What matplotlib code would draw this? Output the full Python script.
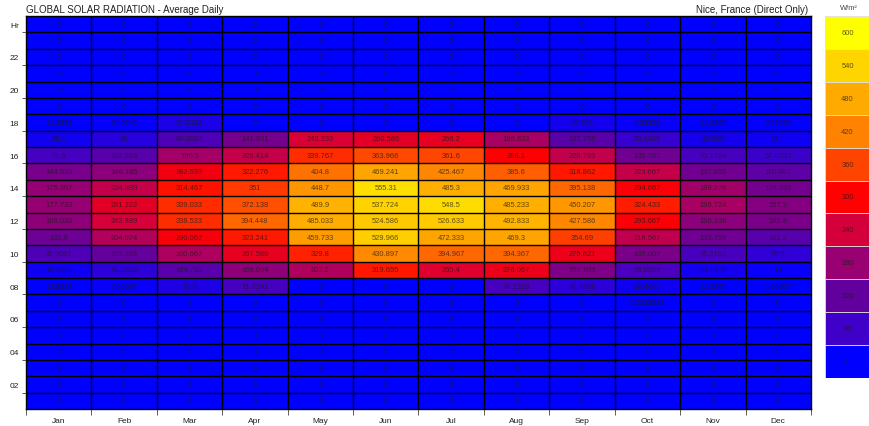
import numpy as np
import matplotlib
matplotlib.use("Agg")
from matplotlib import pyplot as plt
from matplotlib.colors import LinearSegmentedColormap, Normalize

plt.rcParams["font.family"] = ["Liberation Sans", "DejaVu Sans"]

months = ["Jan", "Feb", "Mar", "Apr", "May", "Jun", "Jul", "Aug", "Sep", "Oct", "Nov", "Dec"]

# hourly averages in W/m², only the hours with sun; every other hour is zero
hr07 = [0, 0, 0, 0, 0, 0, 0, 0, 0, 0.0333333, 0, 0]
hr08 = [1.93333, 7.66667, 30.3, 71.7241, 0, 0, 0, 74.1333, 40.4828, 15.4667, 1.10345, 1.96667]
hr09 = [16.3333, 43.8519, 104.733, 168.034, 203.2, 319.655, 255.4, 276.067, 152.103, 78.0333, 20.1379, 9.1]
hr10 = [86.5667, 123.333, 200.667, 267.586, 329.8, 430.897, 394.967, 394.367, 275.621, 146.067, 75.3103, 45.6]
hr11 = [132.8, 204.074, 290.067, 323.241, 459.733, 529.966, 472.333, 469.3, 354.69, 218.567, 133.759, 101.2]
hr12 = [168.033, 242.889, 338.533, 394.448, 485.033, 524.586, 526.633, 492.833, 427.586, 293.067, 166.138, 145.8]
hr13 = [177.733, 261.222, 339.033, 372.138, 489.9, 537.724, 548.5, 485.233, 450.207, 324.433, 196.724, 157.3]
hr14 = [175.367, 224.889, 314.467, 351, 448.7, 555.31, 485.3, 469.933, 395.138, 294.667, 188.276, 139.333]
hr15 = [144.533, 166.185, 282.533, 322.276, 404.8, 469.241, 425.467, 385.6, 318.862, 223.667, 137.655, 110.467]
hr16 = [71.9, 102.593, 190.5, 226.414, 339.767, 363.966, 361.6, 298.1, 220.793, 135.767, 73.1724, 57.8333]
hr17 = [18.1, 36, 84.0667, 141.931, 248.233, 260.586, 266.2, 196.833, 107.759, 53.4333, 20.069, 13.4]
hr18 = [1.13333, 6.40741, 27.2333, 0, 0, 0, 0, 0, 18.931, 7.33333, 1.10345, 2.63333]

hours = list(range(24, 0, -1))
sun_hours = {7: hr07, 8: hr08, 9: hr09, 10: hr10, 11: hr11, 12: hr12,
             13: hr13, 14: hr14, 15: hr15, 16: hr16, 17: hr17, 18: hr18}
hour_labels = {24: "Hr", 22: "22", 20: "20", 18: "18", 16: "16", 14: "14",
               12: "12", 10: "10", 8: "08", 6: "06", 4: "04", 2: "02"}

scale_levels = [0, 60, 120, 180, 240, 300, 360, 420, 480, 540, 600]
scale_colors = ["#0000ff", "#4000c8", "#62009e", "#9a0070", "#d4003c", "#ff0000",
                "#ff4400", "#ff8200", "#ffaa00", "#ffd400", "#ffff00"]

grid = np.array([sun_hours.get(h, [0] * 12) for h in hours], dtype=float)

cmap = LinearSegmentedColormap.from_list(
    "solar", [(lv / 600, c) for lv, c in zip(scale_levels, scale_colors)])
norm = Normalize(0, 600)

W, H = 870, 427
fig = plt.figure(figsize=(W / 100, H / 100), dpi=100)

# main hour x month grid
ax = fig.add_axes([26 / W, (H - 410) / H, (811 - 26) / W, (410 - 17) / H])
ax.pcolormesh(np.arange(13), np.arange(25), grid, cmap=cmap, norm=norm)
ax.hlines(np.arange(1, 24), 0, 12, colors="black", linewidth=1.0)
ax.vlines(np.arange(1, 12), 0, 24, colors="black", linewidth=1.0)
ax.set_xlim(0, 12)
ax.set_ylim(24, 0)
for i in range(len(hours)):
    for j in range(len(months)):
        ax.text(j + 0.5, i + 0.5, f"{grid[i, j]:g}", ha="center", va="center",
                fontsize=5.4, color="#1a1a1a", alpha=0.7)

ax.set_xticks(np.arange(12) + 0.5)
ax.set_xticklabels(months, fontsize=6, color="#222222")
ax.set_xticks(np.arange(13), minor=True)
ax.tick_params(axis="x", which="major", length=0, pad=6)
ax.tick_params(axis="x", which="minor", length=4, width=0.6, color="#444444")

label_rows = [i for i, h in enumerate(hours) if h in hour_labels]
ax.set_yticks([i + 0.5 for i in label_rows])
ax.set_yticklabels([hour_labels[hours[i]] for i in label_rows], fontsize=6, color="#222222")
ax.set_yticks([i + 1 for i in label_rows], minor=True)
ax.tick_params(axis="y", which="major", length=0, pad=5)
ax.tick_params(axis="y", which="minor", length=3, width=0.6, color="#444444")
for side in ax.spines.values():
    side.set_linewidth(1.0)

fig.text(26 / W, 1 - 10 / H, "GLOBAL SOLAR RADIATION - Average Daily",
         ha="left", va="center", fontsize=7, color="#222222")
fig.text(808 / W, 1 - 10 / H, "Nice, France (Direct Only)",
         ha="right", va="center", fontsize=7, color="#222222")

# stepped colour scale
cax = fig.add_axes([825 / W, (H - 379) / H, 45 / W, (379 - 17) / H])
n = len(scale_levels)
for k, lv in enumerate(scale_levels):
    cax.bar(0.5, 1, bottom=k, width=1, color=cmap(norm(lv)), edgecolor="#dddddd", linewidth=0.6)
    cax.text(0.5, k + 0.5, str(lv), ha="center", va="center", fontsize=5.4,
             color="#1a1a1a", alpha=0.7)
cax.set_xlim(0, 1)
cax.set_ylim(0, n)
cax.axis("off")
fig.text(849 / W, 1 - 8 / H, "W/m²", ha="center", va="center", fontsize=5.4, color="#444444")

fig.savefig("out.png", dpi=100)
